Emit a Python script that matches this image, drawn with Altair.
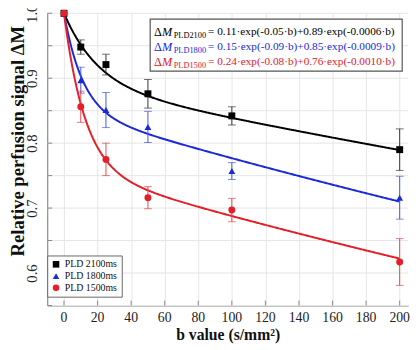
import altair as alt
import pandas as pd

# ---- data ----
b_values = [0, 10, 25, 50, 100, 200]
series_names = ["PLD 2100ms", "PLD 1800ms", "PLD 1500ms"]
mean_2100 = [1.0, 0.948, 0.921, 0.876, 0.842, 0.790]
err_2100 = [0.0, 0.011, 0.016, 0.022, 0.014, 0.032]
mean_1800 = [1.0, 0.897, 0.851, 0.825, 0.757, 0.716]
err_1800 = [0.0, 0.020, 0.027, 0.024, 0.013, 0.033]
mean_1500 = [1.0, 0.856, 0.775, 0.716, 0.697, 0.617]
err_1500 = [0.0, 0.024, 0.025, 0.017, 0.018, 0.036]

# fitted bi-exponential model parameters (from the annotation)
fit_a = [0.11, 0.15, 0.24]
fit_k = [0.05, 0.09, 0.08]
fit_c = [0.89, 0.85, 0.76]
fit_m = [0.0006, 0.0009, 0.0010]
fit_text = [
    "= 0.11·exp(-0.05·b)+0.89·exp(-0.0006·b)",
    "= 0.15·exp(-0.09·b)+0.85·exp(-0.0009·b)",
    "= 0.24·exp(-0.08·b)+0.76·exp(-0.0010·b)",
]
fit_sub = ["PLD2100", "PLD1800", "PLD1500"]

x_ticks = [0, 20, 40, 60, 80, 100, 120, 140, 160, 180, 200]
x_tick_labels = ["0", "20", "40", "60", "80", "100", "120", "140", "160", "180", "200"]
y_labels = [0.6, 0.7, 0.8, 0.9, 1.0]
y_ticks = [0.55, 0.6, 0.65, 0.7, 0.75, 0.8, 0.85, 0.9, 0.95, 1.0]

colors = ["#000000", "#1a2ad8", "#e3202a"]
err_colors = ["#333333", "#4656e0", "#e5454c"]
shapes = ["square", "triangle-up", "circle"]
SERIF = "Liberation Serif"

W, H = 368, 298
xs = alt.Scale(domain=[-10, 205], nice=False, zero=False)
ys = alt.Scale(domain=[0.55, 1.0], nice=False, zero=False)
x_axis = alt.Axis(values=x_ticks, title="b value (s/mm²)", labels=False, grid=True, titlePadding=22)
y_axis = alt.Axis(values=y_labels, format=".1f", labelOverlap=False, grid=False,
                  title="Relative perfusion signal ΔM")


def X(field):
    return alt.X(field, scale=xs, axis=x_axis)


def Y(field):
    return alt.Y(field, scale=ys, axis=y_axis)


rows = []
for name, means, errs in [(series_names[0], mean_2100, err_2100),
                          (series_names[1], mean_1800, err_1800),
                          (series_names[2], mean_1500, err_1500)]:
    for b, m, e in zip(b_values, means, errs):
        rows.append({"series": name, "b": b, "mean": m, "lo": m - e, "hi": m + e, "err": e})
df = pd.DataFrame(rows)

layers = []

# horizontal grid every 0.05 and inward ticks
ytk = alt.Chart(pd.DataFrame({"yt": y_ticks}))
xtk = alt.Chart(pd.DataFrame({"xt": x_ticks, "lab": x_tick_labels}))
layers.append(ytk.mark_rule(color="#e6e6e6", strokeWidth=1).encode(
    y=Y("yt:Q"), x=alt.value(0), x2=alt.value(W)))
layers.append(xtk.mark_rule(color="#888", strokeWidth=1).encode(
    x=X("xt:Q"), y=alt.value(H), y2=alt.value(H - 5)))
layers.append(ytk.mark_rule(color="#888", strokeWidth=1).encode(
    y=Y("yt:Q"), x=alt.value(0), x2=alt.value(5)))
# x tick labels, split into two layers (alternate ticks)
for start in (0, 1):
    part = pd.DataFrame({"xl": x_ticks[start::2], "lab": x_tick_labels[start::2]})
    layers.append(alt.Chart(part).mark_text(font=SERIF, fontSize=14, color="#222", baseline="top",
                                            align="center").encode(
        x=X("xl:Q"), y=alt.value(H + 6), text="lab:N"))

# fitted curves
for i in range(3):
    expr = f"{fit_a[i]}*exp(-{fit_k[i]}*datum.b)+{fit_c[i]}*exp(-{fit_m[i]}*datum.b)"
    layers.append(
        alt.Chart(alt.sequence(0, 200.5, 0.5, as_="b"))
        .transform_calculate(fit=expr)
        .mark_line(color=colors[i], strokeWidth=2)
        .encode(x=X("b:Q"), y=Y("fit:Q"))
    )

# error bars
for i, name in enumerate(series_names):
    sub = df[(df.series == name) & (df.err > 0)]
    base = alt.Chart(sub)
    layers.append(base.mark_rule(color=err_colors[i], strokeWidth=1).encode(
        x=X("b:Q"), y=Y("lo:Q"), y2="hi:Q"))
    for fld in ["lo", "hi"]:
        layers.append(base.mark_tick(color=err_colors[i], orient="horizontal", size=8, thickness=1).encode(
            x=X("b:Q"), y=Y(f"{fld}:Q")))

# markers
layers.append(
    alt.Chart(df).mark_point(filled=True, opacity=1, size=50).encode(
        x=X("b:Q"),
        y=Y("mean:Q"),
        color=alt.Color("series:N", scale=alt.Scale(domain=series_names, range=colors),
                        legend=alt.Legend(title=None, orient="none", legendX=0, legendY=247)),
        shape=alt.Shape("series:N", scale=alt.Scale(domain=series_names, range=shapes)),
    )
)

# formula box
layers.append(alt.Chart(pd.DataFrame({"k": [0]})).mark_rect(
    fill="white", stroke="#555", strokeWidth=1.2).encode(
    x=alt.value(105), x2=alt.value(362), y=alt.value(6), y2=alt.value(59)))
for i in range(3):
    yy = 19 + 15.5 * i
    one = alt.Chart(pd.DataFrame({"k": [0]}))
    layers.append(one.mark_text(text="Δ", font=SERIF, fontSize=12.5, color=colors[i], align="left",
                                baseline="middle").encode(x=alt.value(109), y=alt.value(yy)))
    layers.append(one.mark_text(text="M", font=SERIF, fontSize=12.5, fontStyle="italic", color=colors[i],
                                align="left", baseline="middle").encode(x=alt.value(117), y=alt.value(yy)))
    layers.append(one.mark_text(text=fit_sub[i], font=SERIF, fontSize=8.5, color=colors[i],
                                align="left", baseline="middle").encode(x=alt.value(129), y=alt.value(yy + 3)))
    layers.append(one.mark_text(text=fit_text[i], font=SERIF, fontSize=11.5, color=colors[i],
                                align="left", baseline="middle").encode(x=alt.value(164), y=alt.value(yy)))

chart = alt.layer(*layers).properties(
    width=W, height=H,
    autosize=alt.AutoSizeParams(type="none"),
    padding={"left": 40, "top": 2, "right": 4, "bottom": 42},
    background="white",
).configure_view(stroke=None).configure_axis(
    gridColor="#e6e6e6", gridWidth=1,
    domainColor="#888", domainWidth=1.2, ticks=False,
    labelFont=SERIF, labelFontSize=14, labelColor="#222",
    titleFont=SERIF, titleFontSize=16, titleFontWeight="bold", titleColor="#111",
).configure_axisY(
    labelAngle=270, labelAlign="center", labelBaseline="bottom", labelPadding=8, labelFontSize=15,
    titleX=-20, titleY=130, titleFontSize=19,
).configure_legend(
    fillColor="white", strokeColor="#666", padding=4, labelFont=SERIF, labelFontSize=10,
    labelColor="#111", symbolSize=45, rowPadding=2, symbolStrokeWidth=0,
)

chart.save("out.html", embed_options={"renderer": "svg", "actions": False})
